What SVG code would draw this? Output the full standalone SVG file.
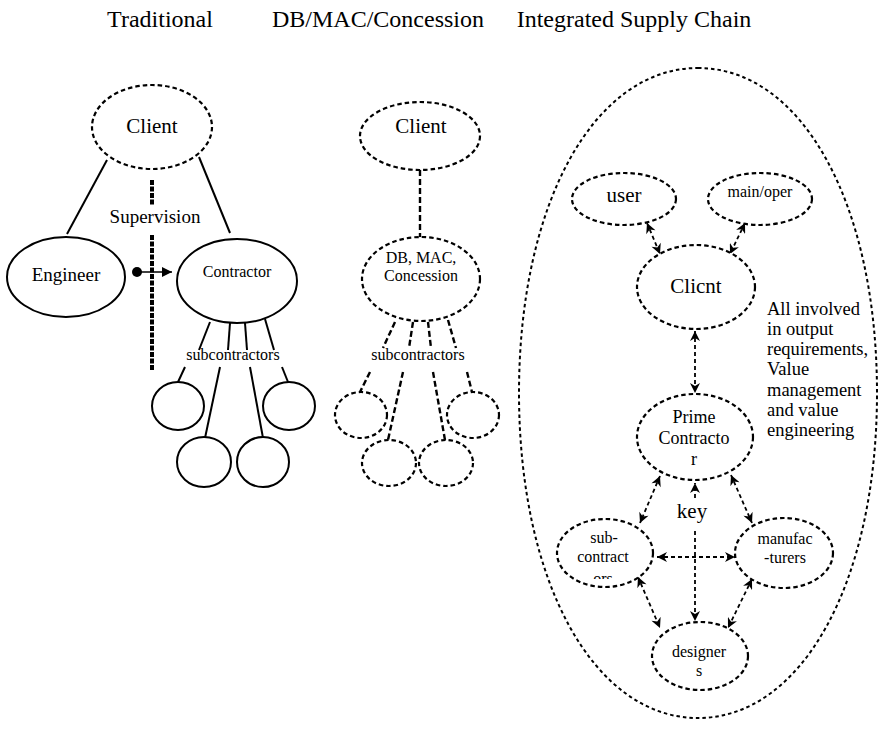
<svg xmlns="http://www.w3.org/2000/svg" width="880" height="729" viewBox="0 0 880 729" font-family="'Liberation Serif', Tinos, 'Times New Roman', 'DejaVu Serif', serif">
  <style>
    text { font-family: "Liberation Serif", Tinos, "Times New Roman", "DejaVu Serif", serif; fill: #000; text-anchor: middle; }
    .title { font-size: 24px; }
    .big { font-size: 21px; }
    .mid { font-size: 19px; }
    .small { font-size: 16px; }
    .note { font-size: 18.5px; text-anchor: start; }
    .solid { fill: #fff; stroke: #000; stroke-width: 2; }
    .dash { fill: #fff; stroke: #000; stroke-width: 2.2; stroke-dasharray: 4.5 3; }
    .line { stroke: #000; stroke-width: 2; fill: none; }
    .dline { stroke: #000; stroke-width: 2.4; stroke-dasharray: 6 3; fill: none; }
    .super { stroke: #000; stroke-width: 4; stroke-dasharray: 5 1.5; fill: none; }
    .arrow { stroke: #000; stroke-width: 1.8; stroke-dasharray: 4 3; fill: none;
             marker-start: url(#head); marker-end: url(#head); }
    .outline { fill: none; stroke: #000; stroke-width: 2; stroke-dasharray: 3.5 3; }
  </style>
  <defs>
    <marker id="head" viewBox="0 0 10 10" refX="10" refY="5" markerWidth="11" markerHeight="10"
            markerUnits="userSpaceOnUse" orient="auto-start-reverse">
      <path d="M0,0 L10,5 L0,10 L3,5 z" fill="#000"/>
    </marker>
    <marker id="tri" viewBox="0 0 10 10" refX="10" refY="5" markerWidth="11" markerHeight="10"
            markerUnits="userSpaceOnUse" orient="auto">
      <path d="M0,0 L10,5 L0,10 z" fill="#000"/>
    </marker>
    <clipPath id="subClip">
      <rect x="550" y="500" width="110" height="79"/>
    </clipPath>
  </defs>

  <!-- column titles -->
  <g id="titles">
    <text class="title" x="160" y="27">Traditional</text>
    <text class="title" x="378" y="27">DB/MAC/Concession</text>
    <text class="title" x="634" y="27">Integrated Supply Chain</text>
  </g>

  <!-- connectors -->
  <g id="connectors">
    <!-- traditional -->
    <line class="line" x1="107" y1="160" x2="67" y2="234"/>
    <line class="line" x1="199" y1="157" x2="230" y2="233"/>
    <line class="super" x1="152" y1="180" x2="152" y2="206"/>
    <line class="super" x1="152" y1="235" x2="152" y2="370"/>
    <circle cx="137" cy="272" r="5" fill="#000"/>
    <line stroke="#000" stroke-width="1.6" x1="137" y1="272" x2="172" y2="272" marker-end="url(#tri)"/>
    <line class="line" x1="210" y1="322" x2="199" y2="350"/>
    <line class="line" x1="230" y1="323" x2="228" y2="350"/>
    <line class="line" x1="245" y1="323" x2="247" y2="350"/>
    <line class="line" x1="265" y1="319" x2="274" y2="350"/>
    <line class="line" x1="185" y1="367" x2="178" y2="382"/>
    <line class="line" x1="220" y1="367" x2="205" y2="438"/>
    <line class="line" x1="250" y1="367" x2="263" y2="438"/>
    <line class="line" x1="282" y1="367" x2="288" y2="382"/>

    <!-- DB / MAC / Concession -->
    <line class="dline" x1="420" y1="170" x2="420" y2="238"/>
    <line class="dline" x1="395" y1="322" x2="383" y2="348"/>
    <line class="dline" x1="413" y1="322" x2="409" y2="348"/>
    <line class="dline" x1="428" y1="322" x2="431" y2="348"/>
    <line class="dline" x1="448" y1="320" x2="456" y2="348"/>
    <line class="dline" x1="370" y1="372" x2="360" y2="392"/>
    <line class="dline" x1="403" y1="372" x2="388" y2="440"/>
    <line class="dline" x1="433" y1="372" x2="445" y2="440"/>
    <line class="dline" x1="467" y1="372" x2="472" y2="392"/>

    <!-- integrated supply chain -->
    <line class="arrow" x1="647" y1="223" x2="660" y2="254"/>
    <line class="arrow" x1="745" y1="223" x2="730" y2="254"/>
    <line class="arrow" x1="695" y1="331" x2="695" y2="393"/>
    <line class="arrow" x1="660" y1="476" x2="640" y2="523"/>
    <line class="arrow" x1="731" y1="475" x2="752" y2="523"/>
    <line class="arrow" x1="657" y1="557" x2="735" y2="557"/>
    <line class="arrow" x1="638" y1="577" x2="660" y2="628"/>
    <line class="arrow" x1="752" y1="579" x2="728" y2="628"/>
    <line stroke="#000" stroke-width="1.8" stroke-dasharray="4 3" x1="695" y1="498" x2="695" y2="483" marker-end="url(#head)"/>
    <line stroke="#000" stroke-width="1.8" stroke-dasharray="4 3" x1="695" y1="531" x2="695" y2="621" marker-end="url(#head)"/>
  </g>

  <!-- Traditional column -->
  <g id="trad-client">
    <ellipse class="dash" cx="152" cy="127" rx="60" ry="42"/>
    <text class="big" x="152" y="133">Client</text>
  </g>
  <g id="trad-engineer">
    <ellipse class="solid" cx="66" cy="277" rx="59" ry="40"/>
    <text class="mid" x="66" y="281">Engineer</text>
  </g>
  <g id="trad-contractor">
    <ellipse class="solid" cx="237" cy="281" rx="60" ry="42"/>
    <text class="small" x="237" y="277">Contractor</text>
  </g>
  <g id="trad-supervision">
    <text class="mid" x="155" y="223">Supervision</text>
  </g>
  <g id="trad-subcontractors">
    <text class="small" x="233" y="360">subcontractors</text>
    <ellipse class="solid" cx="178" cy="406" rx="26" ry="24"/>
    <ellipse class="solid" cx="289" cy="406" rx="26" ry="24"/>
    <ellipse class="solid" cx="204" cy="462" rx="27" ry="25"/>
    <ellipse class="solid" cx="263" cy="462" rx="26" ry="25"/>
  </g>

  <!-- DB / MAC / Concession column -->
  <g id="db-client">
    <ellipse class="dash" cx="420" cy="136" rx="60" ry="34"/>
    <text class="big" x="421" y="133">Client</text>
  </g>
  <g id="db-mac">
    <ellipse class="dash" cx="421" cy="279" rx="59" ry="42"/>
    <text class="small" x="421" y="263">DB, MAC,</text>
    <text class="small" x="421" y="281">Concession</text>
  </g>
  <g id="db-subcontractors">
    <text class="small" x="418" y="360">subcontractors</text>
    <ellipse class="dash" cx="361" cy="415" rx="26" ry="23"/>
    <ellipse class="dash" cx="473" cy="415" rx="26" ry="23"/>
    <ellipse class="dash" cx="389" cy="463" rx="27" ry="23"/>
    <ellipse class="dash" cx="446" cy="463" rx="27" ry="23"/>
  </g>

  <!-- Integrated supply chain column -->
  <g id="isc-boundary">
    <path class="outline" d="M698,68 C802,68 877,204 877,393 C877,582 802,718 698,718 C594,718 519,582 519,393 C519,204 594,68 698,68 Z"/>
  </g>
  <g id="isc-user">
    <ellipse class="dash" cx="624" cy="199" rx="52" ry="26"/>
    <text class="big" x="624" y="202">user</text>
  </g>
  <g id="isc-mainoper">
    <ellipse class="dash" cx="760" cy="199" rx="52" ry="26"/>
    <text class="small" x="760" y="197">main/oper</text>
  </g>
  <g id="isc-client">
    <ellipse class="dash" cx="696" cy="287" rx="59" ry="42"/>
    <text class="big" x="696" y="293">Clicnt</text>
  </g>
  <g id="isc-note">
    <text class="note" x="767" y="315">All involved</text>
    <text class="note" x="767" y="335">in output</text>
    <text class="note" x="767" y="355">requirements,</text>
    <text class="note" x="767" y="375">Value</text>
    <text class="note" x="767" y="396">management</text>
    <text class="note" x="767" y="416">and value</text>
    <text class="note" x="767" y="436">engineering</text>
  </g>
  <g id="isc-prime">
    <ellipse class="dash" cx="695" cy="437" rx="58" ry="43"/>
    <text style="font-size:18px" x="694" y="423">Prime</text>
    <text style="font-size:18px" x="694" y="444">Contracto</text>
    <text style="font-size:18px" x="694" y="465">r</text>
  </g>
  <g id="isc-key">
    <text class="big" x="692" y="518">key</text>
  </g>
  <g id="isc-subcontractors">
    <ellipse class="dash" cx="605" cy="553" rx="48" ry="34"/>
    <text class="small" x="604" y="543">sub-</text>
    <text class="small" x="603" y="562">contract</text>
    <text class="small" x="603" y="584" clip-path="url(#subClip)">ors</text>
  </g>
  <g id="isc-manufacturers">
    <ellipse class="dash" cx="784" cy="553" rx="49" ry="35"/>
    <text class="small" x="785" y="544">manufac</text>
    <text class="small" x="785" y="563">-turers</text>
  </g>
  <g id="isc-designers">
    <ellipse class="dash" cx="700" cy="656" rx="48" ry="34"/>
    <text class="small" x="699" y="657">designer</text>
    <text class="small" x="699" y="676">s</text>
  </g>
</svg>
